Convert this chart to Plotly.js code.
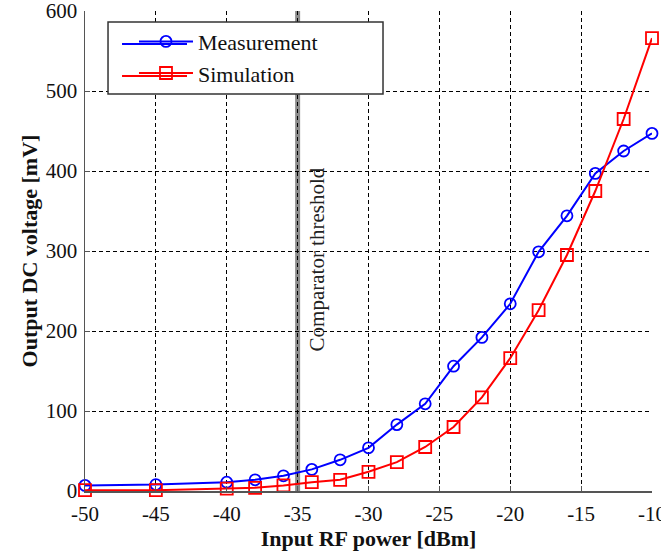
<!DOCTYPE html>
<html>
<head>
<meta charset="utf-8">
<script src="https://cdn.plot.ly/plotly-3.0.1.min.js"></script>
<style>html,body{margin:0;padding:0;background:#fff;}#chart{width:661px;height:556px;}</style>
</head>
<body>
<div id="chart"></div>
<script>
const inputPower = [-50, -45, -40, -38, -36, -34, -32, -30, -28, -26, -24, -22, -20, -18, -16, -14, -12, -10];
const measurement = [7, 8, 11, 14, 19, 27, 39, 54, 83, 109, 156, 192, 234, 299, 344, 397, 425, 447];
const simulation = [1, 1, 3, 4, 7, 11, 14, 24, 36, 55, 80, 117, 166, 226, 295, 375, 465, 566];
const thresholdX = -35;
const xTicks = [-50, -45, -40, -35, -30, -25, -20, -15, -10];
const yTicks = [0, 100, 200, 300, 400, 500, 600];

const serif = "Liberation Serif, Times New Roman, serif";
const blue = "#0000ff", red = "#ff0000";

const traces = [
  {
    x: inputPower, y: measurement, name: "Measurement", type: "scatter", mode: "lines+markers",
    line: {color: blue, width: 2},
    marker: {symbol: "circle-open", size: 11, color: blue, line: {width: 1.8, color: blue}},
    cliponaxis: false
  },
  {
    x: inputPower, y: simulation, name: "Simulation", type: "scatter", mode: "lines+markers",
    line: {color: red, width: 2},
    marker: {symbol: "square-open", size: 12, color: red, line: {width: 1.8, color: red}},
    cliponaxis: false
  }
];

const axisCommon = {
  showgrid: true, gridcolor: "#000", gridwidth: 1, griddash: "4px,3px",
  zeroline: false, showline: true, linecolor: "#555", linewidth: 1.5, mirror: false,
  ticks: "inside", ticklen: 5, tickcolor: "#555",
  tickfont: {family: serif, size: 21, color: "#111"},
  ticklabeloverflow: "allow"
};

// legend symbol lines stretched to the reference's longer sample length
const legendRowY = [0.93125, 0.8646];
const legendLineX = [0.0653, 0.1799];

const layout = {
  width: 661, height: 556,
  margin: {l: 85, r: 9, t: 11, b: 65},
  paper_bgcolor: "#fff", plot_bgcolor: "#fff",
  showlegend: true,
  xaxis: Object.assign({}, axisCommon, {
    range: [-50, -10], tickvals: xTicks, ticktext: xTicks.map(String),
    ticklabelstandoff: 3,
    title: {text: "<b>Input RF power [dBm]</b>", font: {family: serif, size: 22, color: "#111"}, standoff: 6}
  }),
  yaxis: Object.assign({}, axisCommon, {
    range: [0, 600], tickvals: yTicks, ticktext: yTicks.map(String),
    ticklabelstandoff: 2,
    title: {text: "<b>Output DC voltage [mV]</b>", font: {family: serif, size: 22, color: "#111"}, standoff: 2}
  }),
  legend: {
    x: 0.0864, y: 0.98, xanchor: "left", yanchor: "top",
    bgcolor: "rgba(0,0,0,0)", borderwidth: 0,
    font: {family: serif, size: 22, color: "#111"},
    itemwidth: 54, tracegroupgap: 0
  },
  shapes: [
    {type: "line", xref: "x", yref: "paper", x0: thresholdX, x1: thresholdX, y0: 0, y1: 1,
     line: {color: "#8c8c8c", width: 5}, layer: "below"},
    {type: "rect", xref: "paper", yref: "paper", x0: 0.0406, x1: 0.5256, y0: 0.827, y1: 0.977,
     line: {color: "#333", width: 1.5}, fillcolor: "#fff", layer: "above"},
    {type: "line", xref: "paper", yref: "paper", x0: legendLineX[0], x1: legendLineX[1], y0: legendRowY[0], y1: legendRowY[0],
     line: {color: blue, width: 2}, layer: "above"},
    {type: "line", xref: "paper", yref: "paper", x0: legendLineX[0], x1: legendLineX[1], y0: legendRowY[1], y1: legendRowY[1],
     line: {color: red, width: 2}, layer: "above"}
  ],
  annotations: [
    {x: thresholdX, y: 289, xref: "x", yref: "y", text: "Comparator threshold", textangle: -90,
     showarrow: false, xshift: 19, font: {family: serif, size: 21, color: "#222"}}
  ]
};

Plotly.newPlot("chart", traces, layout, {displayModeBar: false, staticPlot: true});
</script>
</body>
</html>
